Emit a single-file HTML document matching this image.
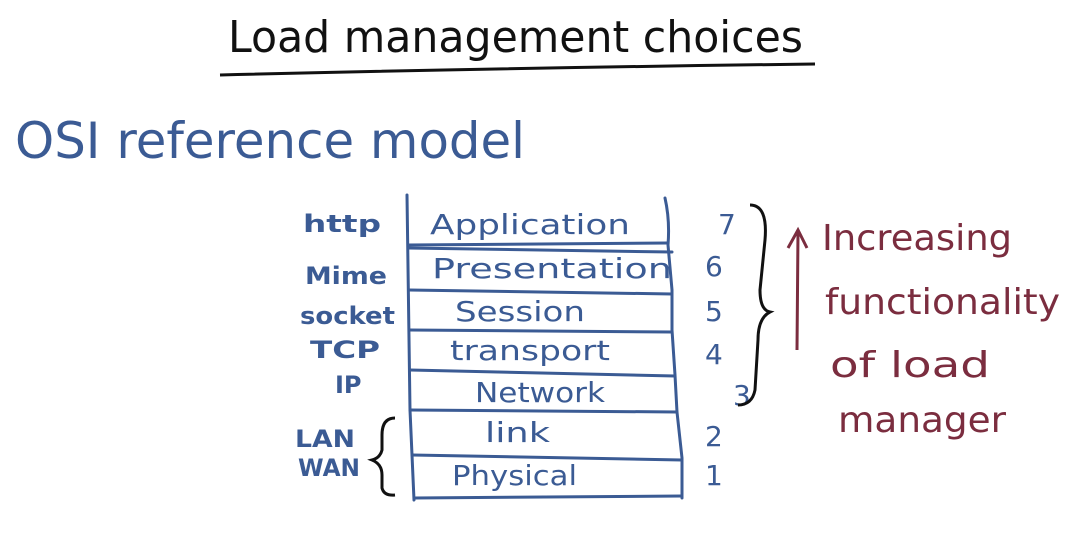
<!DOCTYPE html>
<html><head><meta charset="utf-8"><style>
html,body{margin:0;padding:0;background:#fff;}
svg{display:block;}
text{font-family:"Comic Sans MS","DejaVu Sans","Liberation Sans",sans-serif;}
</style></head><body>
<svg width="1068" height="540" viewBox="0 0 1068 540" xmlns="http://www.w3.org/2000/svg">
<text x="228" y="52" font-size="44" fill="#111" textLength="575" lengthAdjust="spacingAndGlyphs">Load management choices</text>
<path d="M220 75 Q500 68 815 64" stroke="#111" stroke-width="3" fill="none"/>
<text x="15" y="158" font-size="50" fill="#3b5b94" textLength="510" lengthAdjust="spacingAndGlyphs">OSI reference model</text>

<g stroke="#3b5b94" stroke-width="3" fill="none" stroke-linecap="round">
<path d="M407 195 L410 410 L414 500"/>
<path d="M665 198 Q670 220 668 245 L672 290 L672 330 L675 375 L677 412 L682 458 L682 498"/>
<path d="M408 245 L668 243"/>
<path d="M408 248 L672 252"/>
<path d="M409 290 L672 294"/>
<path d="M409 330 L672 332"/>
<path d="M410 370 L675 376"/>
<path d="M410 410 L677 412"/>
<path d="M412 455 L682 460"/>
<path d="M414 498 L682 496"/>
</g>
<g fill="#3b5b94" font-size="28">
<text x="430" y="234" textLength="200" lengthAdjust="spacingAndGlyphs">Application</text>
<text x="432" y="278" textLength="240" lengthAdjust="spacingAndGlyphs">Presentation</text>
<text x="455" y="321" textLength="130" lengthAdjust="spacingAndGlyphs">Session</text>
<text x="450" y="360" textLength="160" lengthAdjust="spacingAndGlyphs">transport</text>
<text x="475" y="402" textLength="130" lengthAdjust="spacingAndGlyphs">Network</text>
<text x="485" y="442" textLength="65" lengthAdjust="spacingAndGlyphs">link</text>
<text x="452" y="485" textLength="125" lengthAdjust="spacingAndGlyphs">Physical</text>
</g>
<g fill="#3b5b94" font-size="24" font-weight="bold">
<text x="303" y="232" textLength="78" lengthAdjust="spacingAndGlyphs">http</text>
<text x="305" y="284" textLength="82" lengthAdjust="spacingAndGlyphs">Mime</text>
<text x="300" y="324" textLength="95" lengthAdjust="spacingAndGlyphs">socket</text>
<text x="310" y="358" textLength="70" lengthAdjust="spacingAndGlyphs">TCP</text>
<text x="335" y="393">IP</text>
<text x="295" y="447" textLength="60" lengthAdjust="spacingAndGlyphs">LAN</text>
<text x="298" y="476" textLength="62" lengthAdjust="spacingAndGlyphs">WAN</text>
</g>
<g fill="#3b5b94" font-size="28">
<text x="718" y="234">7</text>
<text x="705" y="276">6</text>
<text x="705" y="321">5</text>
<text x="705" y="364">4</text>
<text x="733" y="405">3</text>
<text x="705" y="446">2</text>
<text x="705" y="485">1</text>
</g>
<path d="M750 205 Q768 205 765 240 L760 290 Q760 310 770 312 Q758 318 758 340 L755 390 Q752 405 738 405" stroke="#111" stroke-width="3" fill="none"/>
<path d="M395 418 Q382 418 382 435 L382 450 Q380 458 372 460 Q382 464 382 475 L382 488 Q384 496 395 495" stroke="#111" stroke-width="3" fill="none"/>
<path d="M797 350 L798 232 M788 248 L798 230 L807 248" stroke="#7b2d3f" stroke-width="3" fill="none"/>
<g fill="#7b2d3f" font-size="36">
<text x="822" y="250" textLength="190" lengthAdjust="spacingAndGlyphs">Increasing</text>
<text x="825" y="314" textLength="235" lengthAdjust="spacingAndGlyphs">functionality</text>
<text x="830" y="377" textLength="160" lengthAdjust="spacingAndGlyphs">of load</text>
<text x="838" y="432" textLength="168" lengthAdjust="spacingAndGlyphs">manager</text>
</g>
</svg>
</body></html>
